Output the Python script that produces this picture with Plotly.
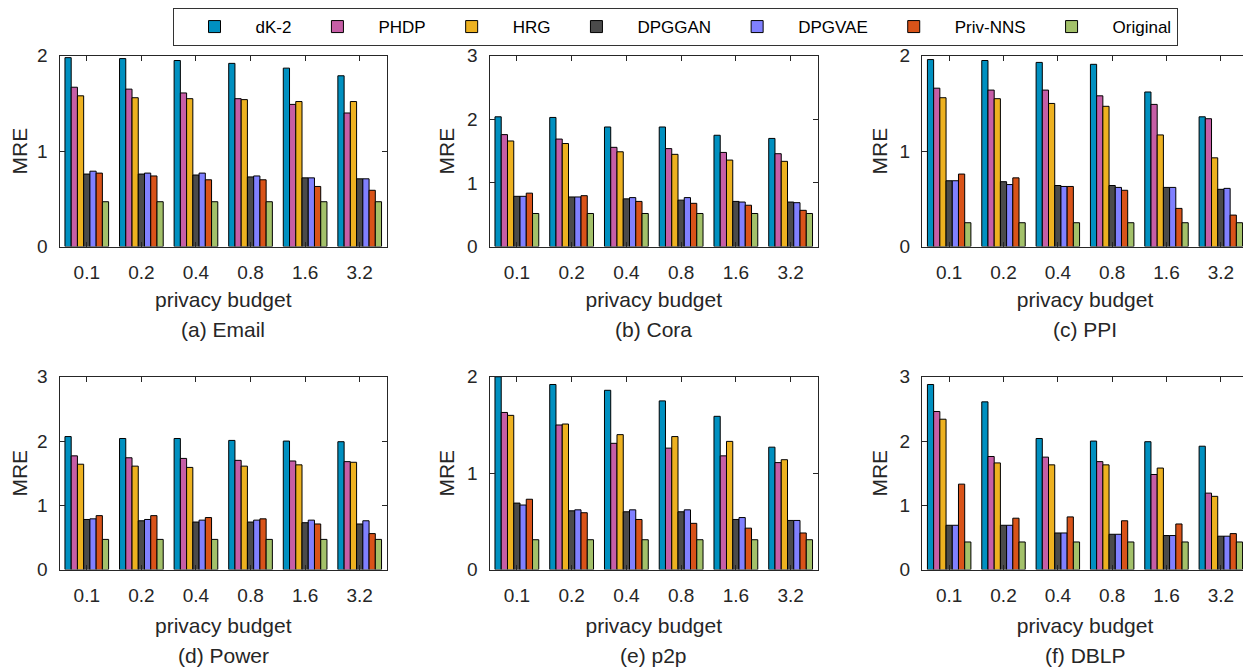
import plotly.graph_objects as go
from plotly.subplots import make_subplots

budgets = ['0.1', '0.2', '0.4', '0.8', '1.6', '3.2']
methods = ['dK-2', 'PHDP', 'HRG', 'DPGGAN', 'DPGVAE', 'Priv-NNS', 'Original']
colors = ['#0090C0', '#C65EA6', '#EDB120', '#4B4B4B', '#8080FF', '#D95319', '#A3C16A']

# MRE values, one list per method (order as in `methods`)
email = [
    [1.98, 1.97, 1.95, 1.92, 1.87, 1.79],
    [1.67, 1.65, 1.61, 1.55, 1.49, 1.40],
    [1.58, 1.56, 1.55, 1.54, 1.52, 1.52],
    [0.76, 0.76, 0.75, 0.73, 0.72, 0.71],
    [0.79, 0.77, 0.77, 0.74, 0.72, 0.71],
    [0.77, 0.74, 0.70, 0.70, 0.63, 0.59],
    [0.47, 0.47, 0.47, 0.47, 0.47, 0.47],
]
cora = [
    [2.04, 2.03, 1.88, 1.88, 1.75, 1.70],
    [1.76, 1.69, 1.56, 1.54, 1.48, 1.46],
    [1.66, 1.62, 1.49, 1.45, 1.36, 1.34],
    [0.79, 0.78, 0.75, 0.73, 0.71, 0.70],
    [0.79, 0.78, 0.77, 0.77, 0.70, 0.69],
    [0.84, 0.80, 0.71, 0.68, 0.65, 0.57],
    [0.52, 0.52, 0.52, 0.52, 0.52, 0.52],
]
ppi = [
    [1.96, 1.95, 1.93, 1.91, 1.62, 1.36],
    [1.66, 1.64, 1.64, 1.58, 1.49, 1.34],
    [1.56, 1.55, 1.50, 1.47, 1.17, 0.93],
    [0.69, 0.68, 0.64, 0.64, 0.62, 0.60],
    [0.69, 0.65, 0.63, 0.62, 0.62, 0.61],
    [0.76, 0.72, 0.63, 0.59, 0.40, 0.33],
    [0.25, 0.25, 0.25, 0.25, 0.25, 0.25],
]
power = [
    [2.07, 2.04, 2.04, 2.01, 2.00, 1.99],
    [1.77, 1.74, 1.73, 1.70, 1.69, 1.68],
    [1.64, 1.61, 1.59, 1.61, 1.63, 1.67],
    [0.78, 0.76, 0.74, 0.74, 0.73, 0.71],
    [0.79, 0.78, 0.77, 0.77, 0.77, 0.76],
    [0.84, 0.84, 0.81, 0.79, 0.71, 0.56],
    [0.47, 0.47, 0.47, 0.47, 0.47, 0.47],
]
p2p = [
    [2.00, 1.92, 1.86, 1.75, 1.59, 1.27],
    [1.63, 1.50, 1.31, 1.26, 1.18, 1.11],
    [1.60, 1.51, 1.40, 1.38, 1.33, 1.14],
    [0.69, 0.61, 0.60, 0.60, 0.52, 0.51],
    [0.67, 0.62, 0.62, 0.62, 0.54, 0.51],
    [0.73, 0.59, 0.52, 0.48, 0.43, 0.38],
    [0.31, 0.31, 0.31, 0.31, 0.31, 0.31],
]
dblp = [
    [2.88, 2.61, 2.04, 2.00, 1.99, 1.92],
    [2.46, 1.76, 1.75, 1.68, 1.48, 1.19],
    [2.34, 1.66, 1.63, 1.63, 1.58, 1.14],
    [0.69, 0.69, 0.57, 0.55, 0.53, 0.52],
    [0.69, 0.69, 0.57, 0.55, 0.53, 0.52],
    [1.33, 0.80, 0.82, 0.76, 0.71, 0.56],
    [0.43, 0.43, 0.43, 0.43, 0.43, 0.43],
]
captions = ['(a) Email', '(b) Cora', '(c) PPI', '(d) Power', '(e) p2p', '(f) DBLP']
datasets = [email, cora, ppi, power, p2p, dblp]
ymax = [2, 3, 2, 3, 2, 3]

# page body has an 8px margin: size the figure so it fits the 1251x671 window
OFF = 8
W, H = 1251 - OFF, 671 - OFF
FONT = 'Liberation Sans, Arial, Helvetica, sans-serif'
TXT = '#262626'

# pixel geometry of plot areas (window coordinates)
col_px = [(59.5, 387), (489.5, 818), (922, 1248)]
row_px = [(52, 244), (375, 569)]
caption_px = [327, 655]


def fx(px):
    return (px - OFF) / W


def fy(py):
    return 1 - (py - OFF) / H


fig = make_subplots(rows=2, cols=3)

for k, data in enumerate(datasets):
    r, c = k // 3 + 1, k % 3 + 1
    for j, m in enumerate(methods):
        fig.add_trace(go.Bar(
            x=budgets, y=data[j], name=m,
            marker=dict(color=colors[j], line=dict(color='#000000', width=1)),
            legendgroup=m, showlegend=(k == 0),
        ), row=r, col=c)

for k in range(6):
    r, c = k // 3, k % 3
    x0, x1 = col_px[c]
    y0, y1 = row_px[r]
    ax = '' if k == 0 else str(k + 1)
    fig.layout['xaxis' + ax].update(
        domain=[fx(x0), fx(x1)], type='category', range=[-0.5, 5.5],
        showline=True, linecolor=TXT, linewidth=1, mirror='ticks',
        ticks='inside', ticklen=5, tickcolor=TXT,
        tickfont=dict(family=FONT, size=19, color=TXT),
        ticklabelstandoff=9, showgrid=False, zeroline=False,
        title=dict(text='privacy budget', font=dict(family=FONT, size=21, color=TXT),
                   standoff=9 if r == 0 else 12),
        automargin=False,
    )
    fig.layout['yaxis' + ax].update(
        domain=[fy(y1), fy(y0)], range=[0, ymax[k]],
        tickvals=list(range(ymax[k] + 1)),
        showline=True, linecolor=TXT, linewidth=1, mirror='ticks',
        ticks='inside', ticklen=5, tickcolor=TXT,
        tickfont=dict(family=FONT, size=19, color=TXT),
        ticklabelstandoff=7, showgrid=False, zeroline=False,
        title=dict(text='MRE', font=dict(family=FONT, size=21, color=TXT), standoff=6),
        automargin=False,
    )
    fig.add_annotation(
        text=captions[k], xref='paper', yref='paper',
        x=fx((x0 + x1) / 2), y=fy(caption_px[r]),
        showarrow=False, xanchor='center', yanchor='middle',
        font=dict(family=FONT, size=21, color=TXT),
    )

fig.update_layout(
    width=W, height=H,
    margin=dict(l=0, r=0, t=0, b=0),
    paper_bgcolor='white', plot_bgcolor='white',
    barmode='group', bargap=0.2, bargroupgap=0,
    font=dict(family=FONT, color=TXT),
    legend=dict(
        orientation='h', x=fx(675), xanchor='center', y=fy(4), yanchor='top',
        bordercolor='#333333', borderwidth=1, bgcolor='white',
        font=dict(family=FONT, size=17, color='#000000'),
        traceorder='normal', itemwidth=72,
    ),
)

fig.write_html('out.html')
